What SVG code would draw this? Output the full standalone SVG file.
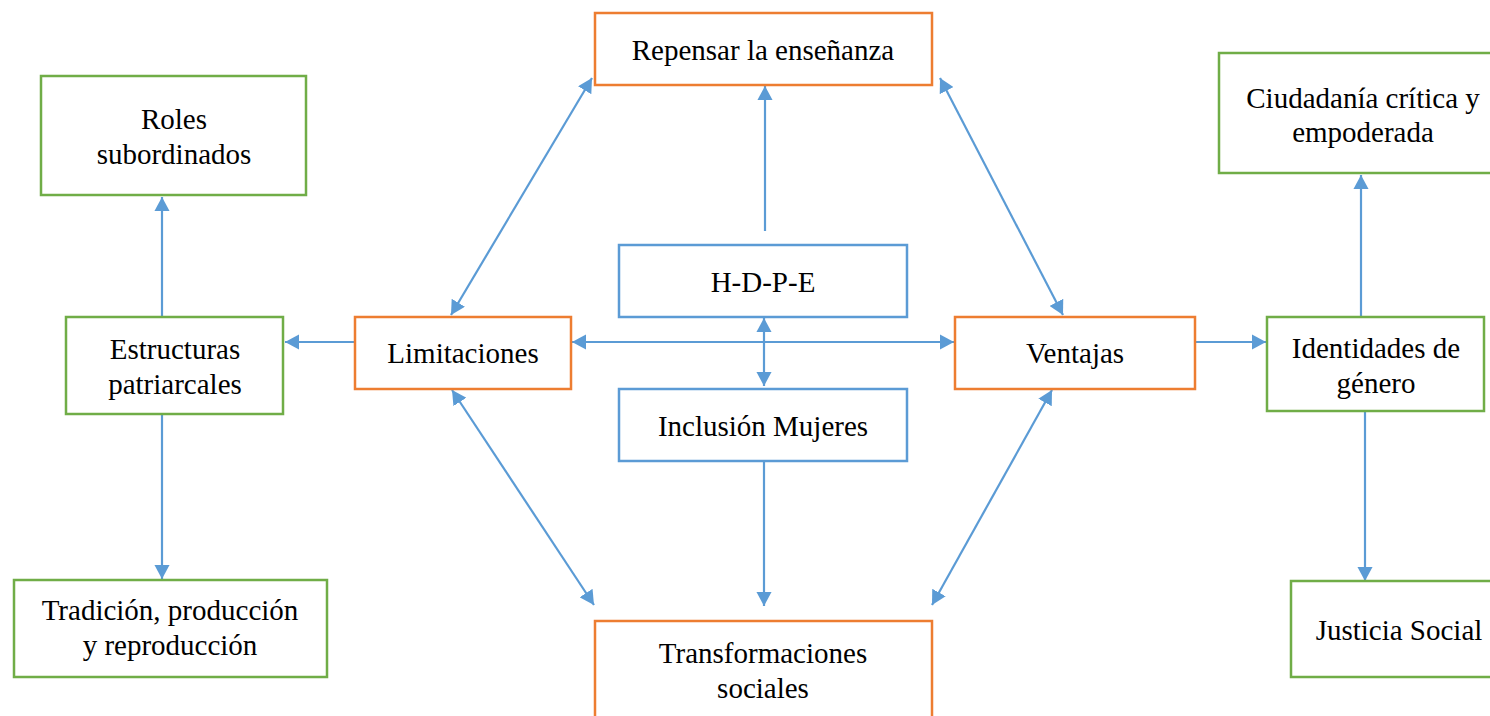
<svg xmlns="http://www.w3.org/2000/svg" width="1490" height="716" viewBox="0 0 1490 716">
  <defs>
    <marker id="arrow" viewBox="0 0 10 10" refX="10" refY="5" markerWidth="6.5" markerHeight="7" markerUnits="strokeWidth" orient="auto-start-reverse" preserveAspectRatio="none">
      <path d="M0,0 L10,5 L0,10 z" fill="#5B9BD5"/>
    </marker>
  </defs>
  <style>
    .box { fill: #FFFFFF; stroke-width: 2.5; }
    .orange { stroke: #ED7D31; }
    .green { stroke: #70AD47; }
    .blue { stroke: #5B9BD5; }
    .label { font-family: "Liberation Serif", "Times New Roman", serif; font-size: 29px; fill: #000000; text-anchor: middle; }
    .conn { stroke: #5B9BD5; stroke-width: 2.2; fill: none; }
    .one { marker-end: url(#arrow); }
    .both { marker-start: url(#arrow); marker-end: url(#arrow); }
  </style>
  <rect width="1490" height="716" fill="#FFFFFF"/>

  <!-- connectors -->
  <g id="connectors">
    <line class="conn one" x1="765" y1="231" x2="765" y2="86"/>
    <line class="conn both" x1="451" y1="315" x2="592" y2="78"/>
    <line class="conn both" x1="940" y1="78" x2="1063" y2="315"/>
    <line class="conn both" x1="572" y1="342" x2="954" y2="342"/>
    <line class="conn both" x1="764" y1="318" x2="764" y2="386"/>
    <line class="conn one" x1="355" y1="342" x2="285" y2="342"/>
    <line class="conn one" x1="162" y1="317" x2="162" y2="197"/>
    <line class="conn one" x1="162" y1="415" x2="162" y2="579"/>
    <line class="conn one" x1="1196" y1="342" x2="1266" y2="342"/>
    <line class="conn one" x1="1361" y1="317" x2="1361" y2="175"/>
    <line class="conn one" x1="1365" y1="412" x2="1365" y2="581"/>
    <line class="conn one" x1="764" y1="462" x2="764" y2="606"/>
    <line class="conn both" x1="452" y1="390" x2="594" y2="605"/>
    <line class="conn both" x1="1052" y1="390" x2="932" y2="605"/>
  </g>

  <!-- top -->
  <g id="repensar">
    <rect class="box orange" x="595" y="13" width="337" height="72"/>
    <text class="label" x="763" y="60">Repensar la enseñanza</text>
  </g>

  <g id="roles">
    <rect class="box green" x="41" y="76" width="265" height="119"/>
    <text class="label" x="174" y="129">Roles</text>
    <text class="label" x="174" y="164">subordinados</text>
  </g>

  <g id="ciudadania">
    <rect class="box green" x="1219" y="53" width="280" height="120"/>
    <text class="label" x="1363" y="108">Ciudadanía crítica y</text>
    <text class="label" x="1363" y="142">empoderada</text>
  </g>

  <!-- centre -->
  <g id="hdpe">
    <rect class="box blue" x="619" y="245" width="288" height="72"/>
    <text class="label" x="763" y="292">H-D-P-E</text>
  </g>

  <g id="inclusion">
    <rect class="box blue" x="619" y="389" width="288" height="72"/>
    <text class="label" x="763" y="436">Inclusión Mujeres</text>
  </g>

  <g id="limitaciones">
    <rect class="box orange" x="355" y="317" width="216" height="72"/>
    <text class="label" x="463" y="363">Limitaciones</text>
  </g>

  <g id="ventajas">
    <rect class="box orange" x="955" y="317" width="240" height="72"/>
    <text class="label" x="1075" y="363">Ventajas</text>
  </g>

  <g id="estructuras">
    <rect class="box green" x="66" y="317" width="217" height="97"/>
    <text class="label" x="175" y="359">Estructuras</text>
    <text class="label" x="175" y="394">patriarcales</text>
  </g>

  <g id="identidades">
    <rect class="box green" x="1267" y="317" width="217" height="94"/>
    <text class="label" x="1376" y="358">Identidades de</text>
    <text class="label" x="1376" y="393">género</text>
  </g>

  <!-- bottom -->
  <g id="tradicion">
    <rect class="box green" x="14" y="580" width="313" height="97"/>
    <text class="label" x="170" y="620">Tradición, producción</text>
    <text class="label" x="170" y="655">y reproducción</text>
  </g>

  <g id="justicia">
    <rect class="box green" x="1291" y="581" width="210" height="96"/>
    <text class="label" x="1399" y="640">Justicia Social</text>
  </g>

  <g id="transformaciones">
    <rect class="box orange" x="595" y="621" width="337" height="110"/>
    <text class="label" x="763" y="663">Transformaciones</text>
    <text class="label" x="763" y="698">sociales</text>
  </g>
</svg>
